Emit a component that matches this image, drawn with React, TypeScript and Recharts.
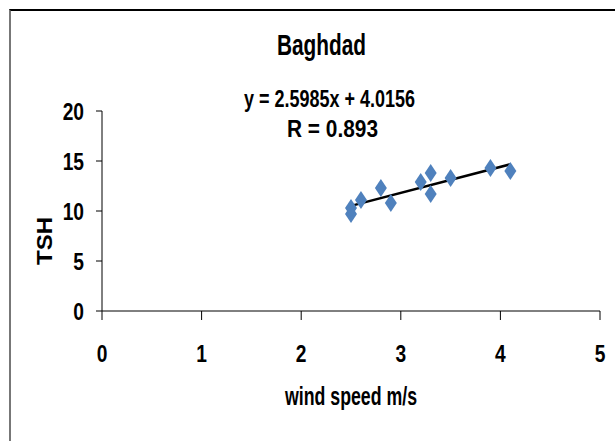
import React from 'react';
import { ScatterChart, Scatter, XAxis, YAxis, ReferenceLine, Label } from 'recharts';

// wind speed (m/s) vs TSH, Baghdad
const windSpeed = [2.5, 2.5, 2.6, 2.8, 2.9, 3.2, 3.3, 3.3, 3.5, 3.9, 4.1];
const tsh = [9.7, 10.3, 11.1, 12.3, 10.8, 12.9, 13.8, 11.7, 13.3, 14.3, 14.0];

const xTicks = [0, 1, 2, 3, 4, 5];
const yTicks = [0, 5, 10, 15, 20];

const slope = 2.5985;
const intercept = 4.0156;
const rValue = '0.893';

const FONT = "'Liberation Sans', Arial, sans-serif";
const BLUE = '#4F81BD';

const points = windSpeed.map((x, i) => ({ x, y: tsh[i] }));
const xMin = Math.min(...windSpeed);
const xMax = Math.max(...windSpeed);

const Diamond = (props: any) => {
    const { cx, cy } = props;
    if (cx == null || cy == null) return <g />;
    const w = 6;
    const h = 9;
    return (
        <polygon
            points={`${cx},${cy - h} ${cx + w},${cy} ${cx},${cy + h} ${cx - w},${cy}`}
            fill={BLUE}
        />
    );
};

// narrow bold tick text (Arial bold squeezed, close to the Calibri look)
const NarrowTick = (props: any) => {
    const { x, y, payload, textAnchor, vertical } = props;
    return (
        <text
            transform={`translate(${x},${y}) scale(0.8,1)`}
            textAnchor={textAnchor}
            dy={vertical ? '0.36em' : '0.71em'}
            style={{ fontFamily: FONT, fontSize: 24, fontWeight: 700, fill: '#000' }}
        >
            {payload.value}
        </text>
    );
};

const textStyle = { fontFamily: FONT, fontWeight: 700, fill: '#000' };

export default function App() {
    return (
        <div style={{ position: 'absolute', left: 0, top: 0, width: 615, height: 441, overflow: 'hidden', background: '#fff' }}>
            <div
                style={{
                    position: 'absolute',
                    left: 9,
                    top: 9,
                    width: 700,
                    height: 500,
                    borderTop: '2px solid #000',
                    borderLeft: '2px solid #777',
                }}
            />
            <div style={{ position: 'absolute', left: 0, top: 0 }}>
                <ScatterChart width={615} height={441} margin={{ top: 111, right: 15, bottom: 0, left: 0 }}>
                    <XAxis
                        type="number"
                        dataKey="x"
                        domain={[0, 5]}
                        ticks={xTicks}
                        height={130}
                        tickSize={9}
                        tickMargin={25}
                        stroke="#000"
                        tick={<NarrowTick />}
                        allowDataOverflow
                    >
                        <Label
                            content={() => (
                                <text x={351} y={405} textAnchor="middle" textLength={132} lengthAdjust="spacingAndGlyphs" style={{ ...textStyle, fontSize: 25 }}>
                                    wind speed m/s
                                </text>
                            )}
                        />
                    </XAxis>
                    <YAxis
                        type="number"
                        dataKey="y"
                        domain={[0, 20]}
                        ticks={yTicks}
                        width={102}
                        tickSize={6}
                        tickMargin={12}
                        stroke="#000"
                        tick={<NarrowTick vertical />}
                        allowDataOverflow
                    >
                        <Label
                            content={() => (
                                <text
                                    x={44}
                                    y={241}
                                    transform="rotate(-90, 44, 241)"
                                    textAnchor="middle"
                                    dominantBaseline="central"
                                    textLength={48}
                                    lengthAdjust="spacingAndGlyphs"
                                    style={{ ...textStyle, fontSize: 22 }}
                                >
                                    TSH
                                </text>
                            )}
                        />
                    </YAxis>
                    <Scatter data={points} shape={<Diamond />} isAnimationActive={false} />
                    <ReferenceLine
                        segment={[
                            { x: xMin, y: slope * xMin + intercept },
                            { x: xMax, y: slope * xMax + intercept },
                        ]}
                        stroke="#000"
                        strokeWidth={2.5}
                    />
                </ScatterChart>
            </div>
            <svg width={615} height={441} style={{ position: 'absolute', left: 0, top: 0, pointerEvents: 'none' }}>
                <text x={321.5} y={55} textAnchor="middle" textLength={89} lengthAdjust="spacingAndGlyphs" style={{ ...textStyle, fontSize: 30 }}>
                    Baghdad
                </text>
                <text x={329.5} y={107} textAnchor="middle" textLength={171} lengthAdjust="spacingAndGlyphs" style={{ ...textStyle, fontSize: 23 }}>
                    {`y = ${slope}x + ${intercept}`}
                </text>
                <text x={332.5} y={137} textAnchor="middle" textLength={91} lengthAdjust="spacingAndGlyphs" style={{ ...textStyle, fontSize: 23 }}>
                    {`R = ${rValue}`}
                </text>
            </svg>
        </div>
    );
}
